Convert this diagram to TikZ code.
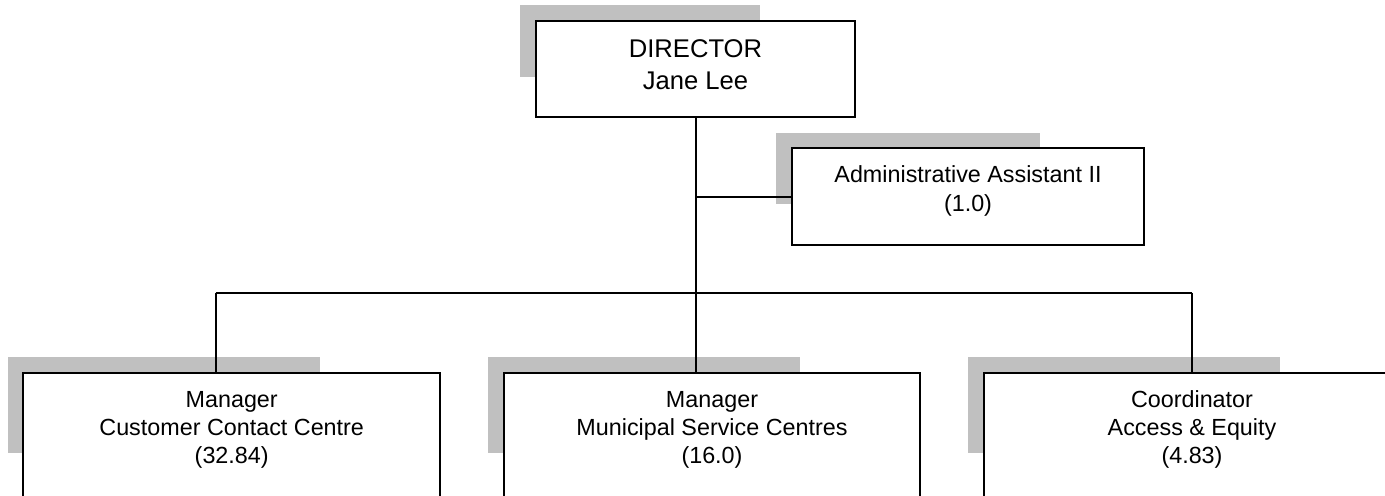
\documentclass[tikz,border=0pt]{standalone}
\usepackage{fontspec}
\setmainfont{Liberation Sans}
\definecolor{shadowgray}{RGB}{192,192,192}

\begin{document}
\begin{tikzpicture}[x=0.75pt,y=-0.75pt]
		% Define box styles for the chart
		\tikzset{unit/.style={draw, line width=1.5pt, fill=white, inner sep=0pt, align=center, anchor=base, font=\fontsize{17.5}{21.2}\selectfont},
			lowbox/.style={unit, minimum width=312.5pt, text height=68.4pt, text depth=27.6pt},
			link/.style={line width=1.5pt}}
		
		% Fix the page size
		\useasboundingbox (0,0) rectangle (1385,496);
		\clip (0,0) rectangle (1385,496);
		
		% Draw the grey shadows behind the boxes
		\foreach \x/\y/\w/\h in {520/5/240/72, 776/132.7/264/71.3, 8/356.7/312/96, 488/356.7/312/96, 968/356.7/312/96}
			\fill[shadowgray] (\x,\y) rectangle ++(\w,\h);
		
		% Draw the boxes
		\node[unit, minimum width=239.7pt, text height=51.45pt, text depth=20.55pt, font=\fontsize{19.2}{23.7}\selectfont] (dir) at (695.5,89.3) {DIRECTOR\\Jane Lee};
		\node[unit, minimum width=264.45pt, text height=47.25pt, text depth=25.5pt] (admin) at (968,211) {Administrative Assistant II\\(1.0)};
		\node[lowbox] (cust) at (231.7,463.9) {Manager\\Customer Contact Centre\\(32.84)};
		\node[lowbox] (muni) at (712,463.9) {Manager\\Municipal Service Centres\\(16.0)};
		\node[lowbox] (acc) at (1192,463.9) {Coordinator\\Access \& Equity\\(4.83)};
		
		% Draw the connecting lines
		\coordinate (busL) at (215.7,292.7);
		\coordinate (busR) at (acc.north |- busL);
		\draw[link] (dir.south) -- (dir.south |- muni.north);
		\draw[link] (dir.south |- admin.west) -- (admin.west);
		\draw[link] (busL) -- (busR);
		\draw[link] (busL) -- (busL |- cust.north);
		\draw[link] (busR) -- (acc.north);
	\end{tikzpicture}
\end{document}
